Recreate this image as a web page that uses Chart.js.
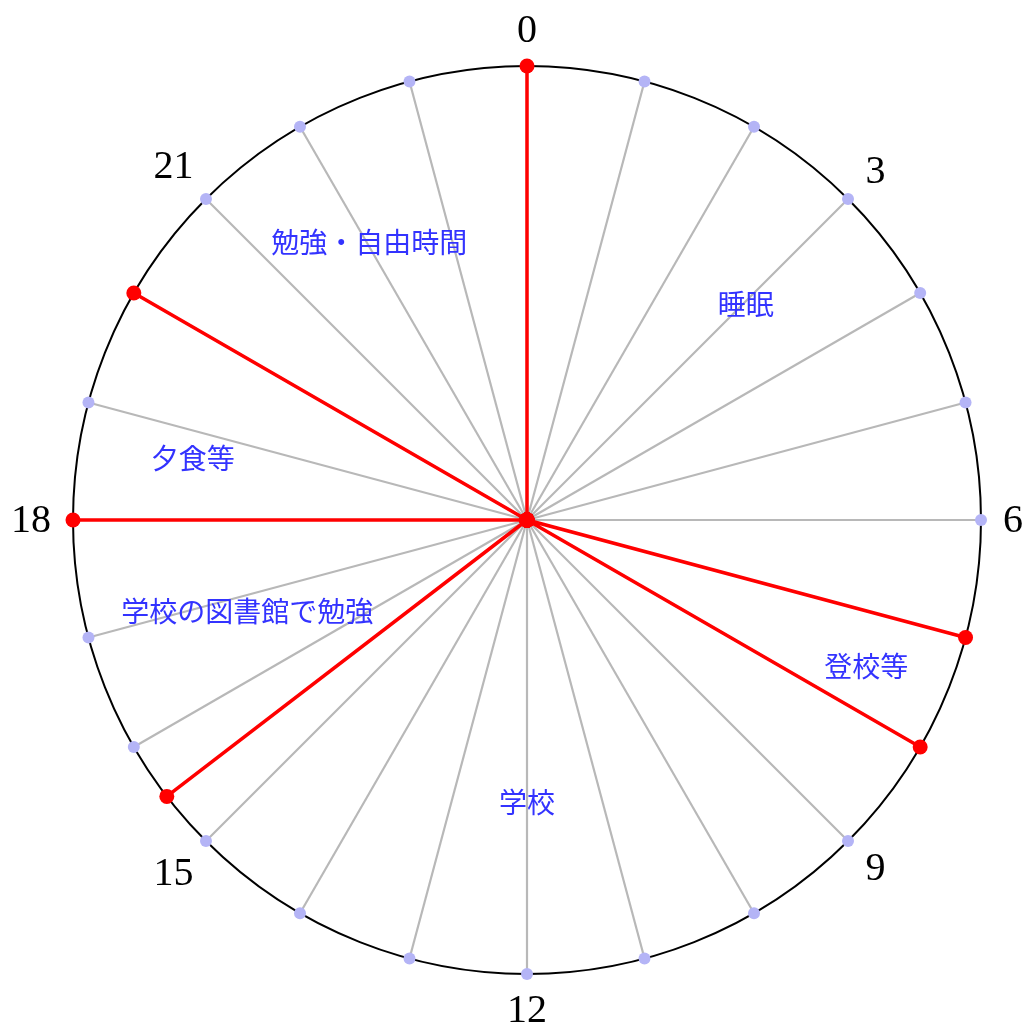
<!DOCTYPE html>
<html>
<head>
<meta charset="utf-8">
<script src="https://cdn.jsdelivr.net/npm/chart.js@4"></script>
<style>
  html, body { margin: 0; padding: 0; background: #fff; }
  #wrap { width: 1031px; height: 1028px; }
</style>
</head>
<body>
<div id="wrap"><canvas id="c" width="1031" height="1028"></canvas></div>
<script>
// ---- data ----
const slotHours = [];                       // half-hour slots around the clock
for (let i = 0; i < 48; i++) slotHours.push(i / 2);
const eventHours = [0, 7, 8, 15.5, 18, 20]; // schedule boundaries (red spokes)
const hourTickLabels = ['0', '3', '6', '9', '12', '15', '18', '21'];
const hourTickValues = [0, 3, 6, 9, 12, 15, 18, 21];
const activityNames = ['睡眠', '登校等', '学校', '学校の図書館で勉強', '夕食等', '勉強・自由時間'];
const activityAtHour = [3.03, 7.56, 12.0, 16.8, 18.7, 22.03];
const activityAtRadius = [0.676, 0.814, 0.621, 0.648, 0.749, 0.704];

const redValues = slotHours.map(h => eventHours.includes(h) ? 1 : 0);
const hourDots = slotHours.map(h => Number.isInteger(h) ? 1 : null);

const labelPlugin = {
  id: 'clockLabels',
  afterDatasetsDraw(chart) {
    const s = chart.scales.r;
    const ctx = chart.ctx;
    const R = s.drawingArea;
    ctx.save();
    ctx.textAlign = 'center';
    ctx.textBaseline = 'middle';
    // hour labels
    ctx.font = '40px "Liberation Serif"';
    ctx.fillStyle = '#000';
    hourTickValues.forEach((h, i) => {
      const txt = hourTickLabels[i];
      const w = ctx.measureText(txt).width;
      const ang = h / 24 * 2 * Math.PI;
      const ext = (w / 2) * Math.abs(Math.sin(ang)) + 14 * Math.abs(Math.cos(ang));
      const p = s.getPointPosition(h * 2, R + 22 + ext);
      ctx.fillText(txt, p.x, p.y + 1);
    });
    // activity labels
    ctx.font = '28px "Noto Sans CJK JP"';
    ctx.fillStyle = '#3333ff';
    activityNames.forEach((t, i) => {
      const p = s.getPointPosition(activityAtHour[i] * 2, R * activityAtRadius[i]);
      ctx.fillText(t, p.x, p.y);
    });
    ctx.restore();
  }
};

new Chart(document.getElementById('c'), {
  type: 'radar',
  data: {
    labels: slotHours.map(String),
    datasets: [
      {
        data: redValues,
        borderColor: '#ff0000',
        borderWidth: 3.5,
        fill: false,
        pointRadius: 7.5,
        pointBackgroundColor: '#ff0000',
        pointBorderWidth: 0,
        tension: 0
      },
      {
        data: hourDots,
        showLine: false,
        borderWidth: 0,
        pointRadius: 6,
        pointBackgroundColor: '#b4b4f6',
        pointBorderWidth: 0
      }
    ]
  },
  options: {
    responsive: false,
    animation: false,
    events: [],
    layout: { padding: { left: 73, right: 50, top: 66, bottom: 54 } },
    plugins: { legend: { display: false }, tooltip: { enabled: false } },
    scales: {
      r: {
        min: 0,
        max: 1,
        ticks: { display: false, stepSize: 1 },
        pointLabels: { display: false },
        grid: { circular: true, color: '#000', lineWidth: 2 },
        angleLines: {
          display: true,
          lineWidth: 2.2,
          color: (ctx) => (ctx.index % 2 === 0 ? '#b8b8b8' : 'rgba(0,0,0,0)')
        }
      }
    }
  },
  plugins: [labelPlugin]
});
</script>
</body>
</html>
